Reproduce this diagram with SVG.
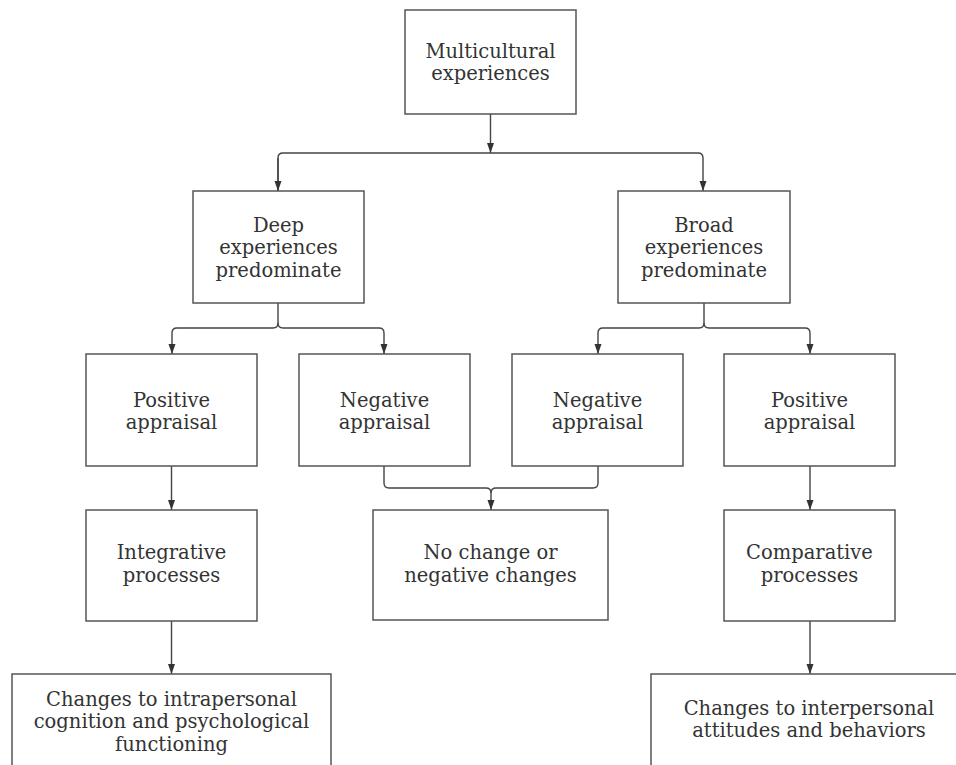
<svg xmlns="http://www.w3.org/2000/svg" width="956" height="765" viewBox="0 0 956 765">
<defs>
<style>
.box{fill:#fff;stroke:#555;stroke-width:1.5}
.t{font-family:"DejaVu Serif","Liberation Serif",serif;font-size:19.5px;fill:#333;text-anchor:middle}
.c{fill:none;stroke:#444;stroke-width:1.4}
</style>
<marker id="ah" markerUnits="userSpaceOnUse" markerWidth="8" markerHeight="11" refX="4" refY="10" orient="auto-start-reverse" viewBox="0 0 8 11">
<path d="M0,0 L8,0 L4,10 z" fill="#333" transform="rotate(0)"/>
</marker>
<marker id="a" markerUnits="userSpaceOnUse" markerWidth="11" markerHeight="8" refX="10" refY="4" orient="auto" viewBox="0 0 11 8">
<path d="M0,0.5 L10,4 L0,7.5 z" fill="#333"/>
</marker>
</defs>
<rect width="956" height="765" fill="#fff"/>
<g id="connectors">
<path class="c" d="M490.5,114 V153" marker-end="url(#a)"/>
<path class="c" d="M278,191 V158 Q278,153 283,153 H698 Q703,153 703,158 V191" marker-end="url(#a)"/>
<path class="c" d="M278,158 V191" marker-end="url(#a)"/>
<path class="c" d="M278,303 V323 Q278,328 273,328 H177 Q172,328 172,333 V354" marker-end="url(#a)"/>
<path class="c" d="M278,323 Q278,328 283,328 H379 Q384,328 384,333 V354" marker-end="url(#a)"/>
<path class="c" d="M704,303 V323 Q704,328 699,328 H603 Q598,328 598,333 V354" marker-end="url(#a)"/>
<path class="c" d="M704,323 Q704,328 709,328 H805 Q810,328 810,333 V354" marker-end="url(#a)"/>
<path class="c" d="M384,466 V483 Q384,488 389,488 H486 Q491,488 491,493 V510" marker-end="url(#a)"/>
<path class="c" d="M598,466 V483 Q598,488 593,488 H496 Q491,488 491,493"/>
<path class="c" d="M171.5,466 V510" marker-end="url(#a)"/>
<path class="c" d="M810,466 V510" marker-end="url(#a)"/>
<path class="c" d="M171.5,621 V674" marker-end="url(#a)"/>
<path class="c" d="M810,621 V674" marker-end="url(#a)"/>
</g>
<g id="multicultural">
<rect class="box" x="405" y="10" width="171" height="104"/>
<text class="t" x="490.5" y="58">Multicultural</text>
<text class="t" x="490.5" y="80">experiences</text>
</g>
<g id="deep">
<rect class="box" x="193" y="191" width="171" height="112"/>
<text class="t" x="278.5" y="232">Deep</text>
<text class="t" x="278.5" y="254">experiences</text>
<text class="t" x="278.5" y="277">predominate</text>
</g>
<g id="broad">
<rect class="box" x="618" y="191" width="172" height="112"/>
<text class="t" x="704" y="232">Broad</text>
<text class="t" x="704" y="254">experiences</text>
<text class="t" x="704" y="277">predominate</text>
</g>
<g id="pos-left">
<rect class="box" x="86" y="354" width="171" height="112"/>
<text class="t" x="171.5" y="407">Positive</text>
<text class="t" x="171.5" y="429">appraisal</text>
</g>
<g id="neg-left">
<rect class="box" x="299" y="354" width="171" height="112"/>
<text class="t" x="384.5" y="407">Negative</text>
<text class="t" x="384.5" y="429">appraisal</text>
</g>
<g id="neg-right">
<rect class="box" x="512" y="354" width="171" height="112"/>
<text class="t" x="597.5" y="407">Negative</text>
<text class="t" x="597.5" y="429">appraisal</text>
</g>
<g id="pos-right">
<rect class="box" x="724" y="354" width="171" height="112"/>
<text class="t" x="809.5" y="407">Positive</text>
<text class="t" x="809.5" y="429">appraisal</text>
</g>
<g id="integrative">
<rect class="box" x="86" y="510" width="171" height="111"/>
<text class="t" x="171.5" y="559">Integrative</text>
<text class="t" x="171.5" y="582">processes</text>
</g>
<g id="nochange">
<rect class="box" x="373" y="510" width="235" height="110"/>
<text class="t" x="490.5" y="559">No change or</text>
<text class="t" x="490.5" y="582">negative changes</text>
</g>
<g id="comparative">
<rect class="box" x="724" y="510" width="171" height="111"/>
<text class="t" x="809.5" y="559">Comparative</text>
<text class="t" x="809.5" y="582">processes</text>
</g>
<g id="intrapersonal">
<rect class="box" x="12" y="674" width="319" height="110"/>
<text class="t" x="171.5" y="706">Changes to intrapersonal</text>
<text class="t" x="171.5" y="728">cognition and psychological</text>
<text class="t" x="171.5" y="751">functioning</text>
</g>
<g id="interpersonal">
<rect class="box" x="651" y="674" width="320" height="110"/>
<text class="t" x="809" y="715">Changes to interpersonal</text>
<text class="t" x="809" y="737">attitudes and behaviors</text>
</g>
</svg>
